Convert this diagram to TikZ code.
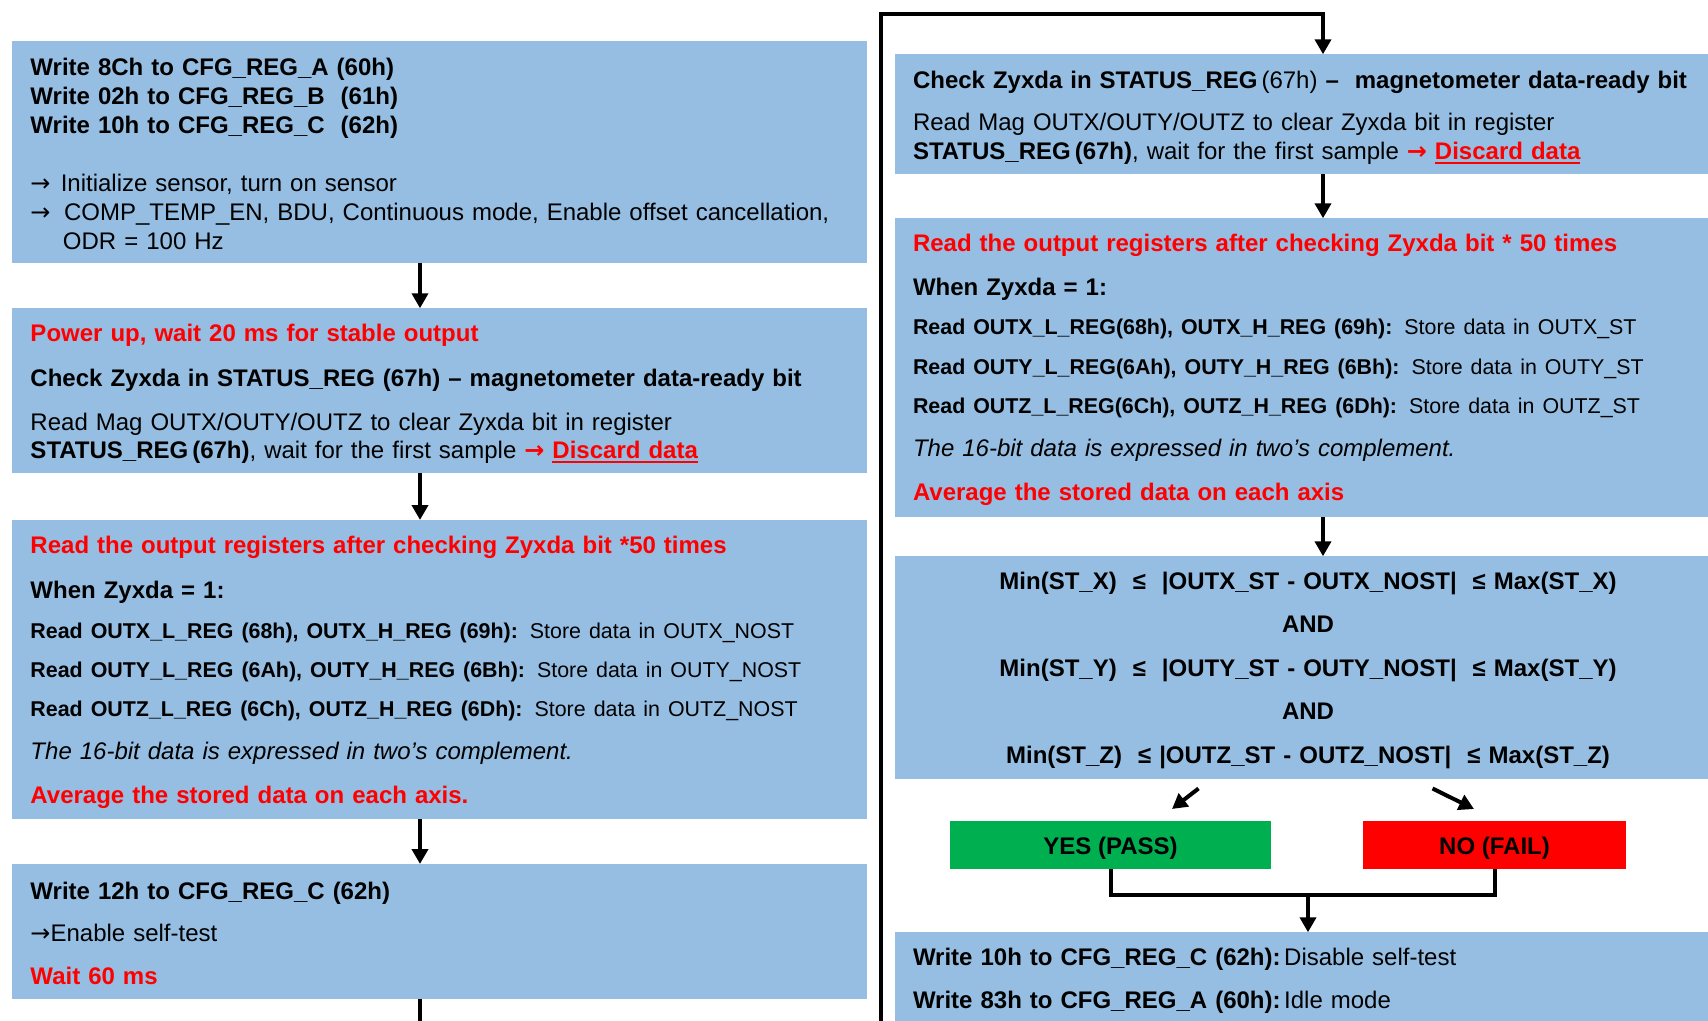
\documentclass[tikz,border=0pt]{standalone}
\usepackage{fontspec}
\setmainfont{Liberation Sans}
\newfontfamily\arrowfont{DejaVu Sans}
\usetikzlibrary{arrows.meta}
\definecolor{boxblue}{RGB}{149,190,226}
\definecolor{passgreen}{RGB}{0,176,80}
\definecolor{failred}{RGB}{255,0,0}
\newcommand{\redul}[1]{\setbox0=\hbox{#1}\rlap{\rule[-2.25pt]{\wd0}{1pt}}\box0}
\newcommand{\redbf}[1]{\textcolor{red}{\textbf{#1}}}
\newcommand{\smallreg}{\fontsize{10.7}{14}\selectfont}
\newcommand{\rarr}{{\arrowfont →}}
\newcommand{\colgap}{\hspace{0.15em}}

\begin{document}
\begin{tikzpicture}[x=0.5pt, y=-0.5pt,
  box/.style={fill=boxblue, anchor=north west, inner xsep=9.25pt, inner ysep=0pt, outer sep=0pt,
    align=left, text width=409pt, font=\fontsize{12}{14.5}\selectfont},
  rbox/.style={box, inner xsep=9pt, text width=395pt},
  verdict/.style={anchor=north west, inner sep=0pt, outer sep=0pt, text height=17pt, text depth=7pt,
    font=\fontsize{12}{14}\selectfont\bfseries},
  link/.style={line width=2pt},
  flow/.style={link, -{Triangle[width=8pt,length=7.5pt]}}]
\useasboundingbox (0,0) rectangle (1708,1021);
\clip (0,0) rectangle (1708,1021);

% left column
\node[box, text height=17pt, text depth=94pt] (init) at (12,41.5)
  {\textbf{Write 8Ch to CFG\_REG\_A (60h)}\\
   \textbf{Write 02h to CFG\_REG\_B\ \ (61h)}\\
   \textbf{Write 10h to CFG\_REG\_C\ \ (62h)}\\[14.5pt]
   \rarr\ \hspace{1.1pt}Initialize sensor, turn on sensor\\
   \rarr\ \hspace{2.7pt}COMP\_TEMP\_EN, BDU, Continuous mode, Enable offset cancellation,\\
   \hspace*{16.25pt}ODR = 100 Hz};
\node[box, text height=16.6pt, text depth=66pt] (power) at (12,308.3)
  {\redbf{Power up, wait 20 ms for stable output}\\[8pt]
   \textbf{Check Zyxda in STATUS\_REG (67h) – magnetometer data-ready bit}\\[7.5pt]
   Read Mag OUTX/OUTY/OUTZ to clear Zyxda bit in register\\[-0.5pt]
   \textbf{STATUS\_REG\,(67h)}, wait for the first sample \redbf{\rarr\ \redul{Discard data}}};
\node[box, text height=16.5pt, text depth=133pt] (readnost) at (12,520)
  {\redbf{Read the output registers after checking Zyxda bit *50 times}\\[8pt]
   \textbf{When Zyxda = 1:}\\[5.75pt]
   {\smallreg\textbf{Read OUTX\_L\_REG (68h), OUTX\_H\_REG (69h):} Store data in OUTX\_NOST}\\[5pt]
   {\smallreg\textbf{Read OUTY\_L\_REG (6Ah), OUTY\_H\_REG (6Bh):} Store data in OUTY\_NOST}\\[5pt]
   {\smallreg\textbf{Read OUTZ\_L\_REG (6Ch), OUTZ\_H\_REG (6Dh):} Store data in OUTZ\_NOST}\\[7pt]
   \textit{The 16-bit data is expressed in two’s complement.}\\[7.5pt]
   \redbf{Average the stored data on each axis.}};
\node[box, text height=17.5pt, text depth=50pt] (selftest) at (12,864)
  {\textbf{Write 12h to CFG\_REG\_C (62h)}\\[6.5pt]
   \rarr Enable self-test\\[7pt]
   \redbf{Wait 60 ms}};

% right column
\node[rbox, text height=17.1pt, text depth=42.75pt] (checkst) at (895,54.3)
  {\textbf{Check Zyxda in STATUS\_REG\,}(67h) \textbf{–\ \ magnetometer data-ready bit}\\[6.75pt]
   Read Mag OUTX/OUTY/OUTZ to clear Zyxda bit in register\\
   \textbf{STATUS\_REG\,(67h)}, wait for the first sample \redbf{\rarr\ \redul{Discard data}}};
\node[rbox, text height=16.4pt, text depth=133.1pt] (readst) at (895,218.3)
  {\redbf{Read the output registers after checking Zyxda bit * 50 times}\\[7.5pt]
   \textbf{When Zyxda = 1:}\\[5.25pt]
   {\smallreg\textbf{Read OUTX\_L\_REG(68h), OUTX\_H\_REG (69h):} Store data in OUTX\_ST}\\[5.5pt]
   {\smallreg\textbf{Read OUTY\_L\_REG(6Ah), OUTY\_H\_REG (6Bh):} Store data in OUTY\_ST}\\[5pt]
   {\smallreg\textbf{Read OUTZ\_L\_REG(6Ch), OUTZ\_H\_REG (6Dh):} Store data in OUTZ\_ST}\\[6.75pt]
   \textit{The 16-bit data is expressed in two’s complement.}\\[7.5pt]
   \redbf{Average the stored data on each axis}};
\node[rbox, align=center, text height=16.5pt, text depth=95pt,
  font=\fontsize{12}{21.75}\selectfont\bfseries] (compare) at (895,556.3)
  {Min(ST\_X)\ \ ≤\ \ |OUTX\_ST - OUTX\_NOST|\ \ ≤ Max(ST\_X)\\
   AND\\
   Min(ST\_Y)\ \ ≤\ \ |OUTY\_ST - OUTY\_NOST|\ \ ≤ Max(ST\_Y)\\
   AND\\
   Min(ST\_Z)\ \ ≤ |OUTZ\_ST - OUTZ\_NOST|\ \ ≤ Max(ST\_Z)};
\node[verdict, fill=passgreen, minimum width=160.5pt] (yes) at (950,820.5) {YES (PASS)};
\node[verdict, fill=failred, minimum width=131.5pt] (no) at (1363,820.5) {NO (FAIL)};
\node[rbox, text height=16.5pt, text depth=32.5pt] (disable) at (895,932.3)
  {\textbf{Write 10h to CFG\_REG\_C (62h):}\colgap Disable self-test\\[7.25pt]
   \textbf{Write 83h to CFG\_REG\_A (60h):}\colgap Idle mode};

\coordinate (lcol) at (420,1021);
\coordinate (rcol) at (1323,14);
\coordinate (loopbot) at (881,1021);
\coordinate (merge) at (1308,895);
\coordinate (passfrom) at (1198.5,788.5);
\coordinate (passto) at (1172,809);
\coordinate (failfrom) at (1432.5,788.5);
\coordinate (failto) at (1474,809);

\foreach \a/\b in {init/power, power/readnost, readnost/selftest}
  \draw[flow] (\a.south -| lcol) -- (\b.north -| lcol);
\draw[link] (selftest.south -| lcol) -- (lcol);
\draw[flow] (loopbot) |- (rcol) -- (checkst.north -| rcol);
\foreach \a/\b in {checkst/readst, readst/compare}
  \draw[flow] (\a.south -| rcol) -- (\b.north -| rcol);
\draw[flow] (passfrom) -- (passto);
\draw[flow] (failfrom) -- (failto);
\draw[link] (yes.south) |- (merge) -| (no.south);
\draw[flow] (merge) -- (disable.north);
\end{tikzpicture}
\end{document}
